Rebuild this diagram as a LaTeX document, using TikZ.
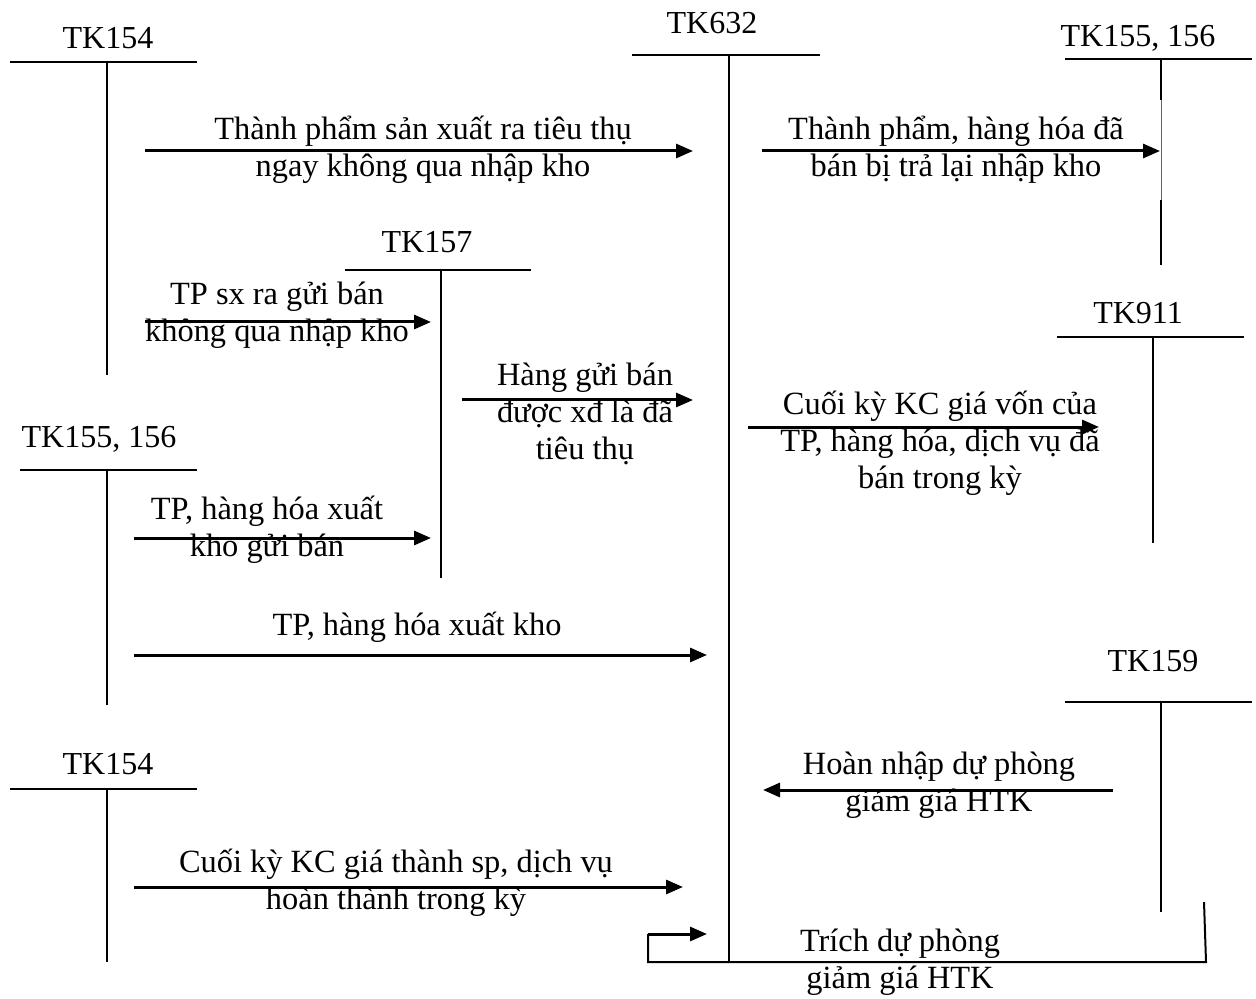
\documentclass[tikz,border=0pt]{standalone}
\usepackage{fontspec}
\setmainfont{Liberation Serif}
\usetikzlibrary{arrows.meta}
\begin{document}
\begin{tikzpicture}[x=0.5pt,y=-0.5pt,
  acct/.style={line width=1pt},
  flow/.style={line width=1.5pt,-{Triangle[length=8.5pt,width=7pt]}},
  lbl/.style={align=center,inner sep=0pt,font=\fontsize{16.2}{18.5}\selectfont},
  ttl/.style={inner sep=0pt,font=\fontsize{16}{18.5}\selectfont}]
\useasboundingbox (0,0) rectangle (1256,999);
% ---- T accounts ----
% TK154 top
\node[ttl] (n154a) at (108,38) {TK154};
\coordinate (h154aL) at (10,62); \coordinate (h154aR) at (197,62);
\coordinate (v154aT) at (107,62); \coordinate (v154aB) at (107,375);
\draw[acct] (h154aL) -- (h154aR); \draw[acct] (v154aT) -- (v154aB);
% TK632
\node[ttl] (n632) at (712,23) {TK632};
\coordinate (h632L) at (632,55); \coordinate (h632R) at (820,55);
\coordinate (v632T) at (729,55); \coordinate (v632B) at (729,962);
\draw[acct] (h632L) -- (h632R); \draw[acct] (v632T) -- (v632B);
% TK155,156 top right
\node[ttl] (n155a) at (1138,38) {TK155, 156};
\coordinate (h155aL) at (1065,59); \coordinate (h155aR) at (1252,59);
\coordinate (v155aT) at (1161,59); \coordinate (v155a1) at (1161,100);
\coordinate (v155a2) at (1161,200); \coordinate (v155aB) at (1161,265);
\draw[acct] (h155aL) -- (h155aR);
\draw[acct] (v155aT) -- (v155a1);
\draw[line width=0.3pt,black!60] (v155a1) -- (v155a2);
\draw[acct] (v155a2) -- (v155aB);
% TK157
\node[ttl] (n157) at (427,242) {TK157};
\coordinate (h157L) at (345,270); \coordinate (h157R) at (531,270);
\coordinate (v157T) at (441,270); \coordinate (v157B) at (441,578);
\draw[acct] (h157L) -- (h157R); \draw[acct] (v157T) -- (v157B);
% TK911
\node[ttl] (n911) at (1138,313) {TK911};
\coordinate (h911L) at (1057,337); \coordinate (h911R) at (1244,337);
\coordinate (v911T) at (1153,337); \coordinate (v911B) at (1153,543);
\draw[acct] (h911L) -- (h911R); \draw[acct] (v911T) -- (v911B);
% TK155,156 left
\node[ttl] (n155b) at (99,439) {TK155, 156};
\coordinate (h155bL) at (20,470); \coordinate (h155bR) at (197,470);
\coordinate (v155bT) at (107,470); \coordinate (v155bB) at (107,705);
\draw[acct] (h155bL) -- (h155bR); \draw[acct] (v155bT) -- (v155bB);
% TK159
\node[ttl] (n159) at (1153,661) {TK159};
\coordinate (h159L) at (1065,702); \coordinate (h159R) at (1252,702);
\coordinate (v159T) at (1161,702); \coordinate (v159B) at (1161,912);
\draw[acct] (h159L) -- (h159R); \draw[acct] (v159T) -- (v159B);
% TK154 bottom
\node[ttl] (n154b) at (108,764) {TK154};
\coordinate (h154bL) at (10,789); \coordinate (h154bR) at (197,789);
\coordinate (v154bT) at (107,789); \coordinate (v154bB) at (107,962);
\draw[acct] (h154bL) -- (h154bR); \draw[acct] (v154bT) -- (v154bB);
% ---- flows ----
\coordinate (a1s) at (145,151); \coordinate (a1e) at (693,151);
\draw[flow] (a1s) -- (a1e);
\node[lbl] (l1) at (423,150) {Thành phẩm sản xuất ra tiêu thụ\\ngay không qua nhập kho};
\coordinate (a2s) at (762,151); \coordinate (a2e) at (1160,151);
\draw[flow] (a2s) -- (a2e);
\node[lbl] (l2) at (956,150) {Thành phẩm, hàng hóa đã\\bán bị trả lại nhập kho};
\coordinate (a3s) at (145,322); \coordinate (a3e) at (431,322);
\draw[flow] (a3s) -- (a3e);
\node[lbl] (l3) at (277,315) {TP sx ra gửi bán\\không qua nhập kho};
\coordinate (a4s) at (462,400); \coordinate (a4e) at (693,400);
\draw[flow] (a4s) -- (a4e);
\node[lbl] (l4) at (585,414) {Hàng gửi bán\\được xđ là đã\\tiêu thụ};
\coordinate (a5s) at (748,427); \coordinate (a5e) at (1099,427);
\draw[flow] (a5s) -- (a5e);
\node[lbl] (l5) at (940,443) {Cuối kỳ KC giá vốn của\\TP, hàng hóa, dịch vụ đã\\bán trong kỳ};
\coordinate (a6s) at (134,538); \coordinate (a6e) at (431,538);
\draw[flow] (a6s) -- (a6e);
\node[lbl] (l6) at (267,530) {TP, hàng hóa xuất\\kho gửi bán};
\coordinate (a7s) at (134,655); \coordinate (a7e) at (707,655);
\draw[flow] (a7s) -- (a7e);
\node[lbl] (l7) at (417,627) {TP, hàng hóa xuất kho};
\coordinate (a8s) at (1113,790); \coordinate (a8e) at (763,790);
\draw[flow] (a8s) -- (a8e);
\node[lbl] (l8) at (939,785) {Hoàn nhập dự phòng\\giảm giá HTK};
\coordinate (a9s) at (134,887); \coordinate (a9e) at (683,887);
\draw[flow] (a9s) -- (a9e);
\node[lbl] (l9) at (396,883) {Cuối kỳ KC giá thành sp, dịch vụ\\hoàn thành trong kỳ};
% bracket
\coordinate (b1) at (1204,902); \coordinate (b2) at (1206,962);
\coordinate (b3) at (648,962); \coordinate (b4) at (648,934);
\coordinate (b5) at (707,934);
\draw[acct] (b1) -- (b2) -- (b3) -- (b4);
\draw[flow] (b4) -- (b5);
\node[lbl] (l10) at (900,962) {Trích dự phòng\\giảm giá HTK};
\end{tikzpicture}
\end{document}
